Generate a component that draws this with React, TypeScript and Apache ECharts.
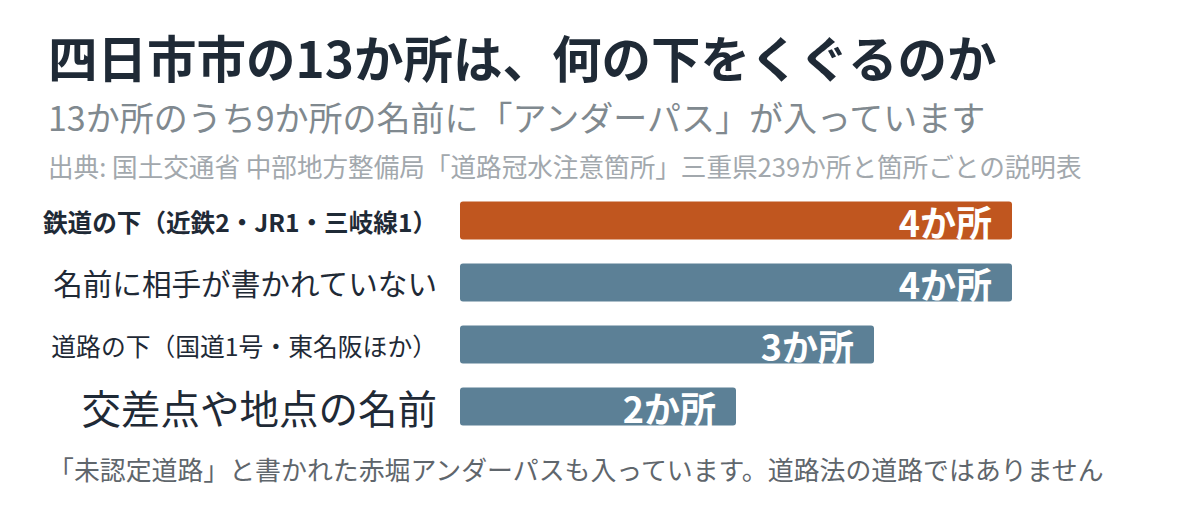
import React, { useEffect, useRef } from "react";
import * as echarts from "echarts";

const categories = [
  "鉄道の下（近鉄2・JR1・三岐線1）",
  "名前に相手が書かれていない",
  "道路の下（国道1号・東名阪ほか）",
  "交差点や地点の名前",
];
const values = [4, 4, 3, 2];
const valueLabels = ["4か所", "4か所", "3か所", "2か所"];
const labelStyles = ["a", "b", "c", "d"];
const barColors = ["#C0561F", "#5C8096", "#5C8096", "#5C8096"];

const titleText = "四日市市の13か所は、何の下をくぐるのか";
const subtitleText = "13か所のうち9か所の名前に「アンダーパス」が入っています";
const sourceText = "出典: 国土交通省 中部地方整備局「道路冠水注意箇所」三重県239か所と箇所ごとの説明表";
const noteText = "「未認定道路」と書かれた赤堀アンダーパスも入っています。道路法の道路ではありません";

const FONT = '"Noto Sans CJK JP", "Noto Sans", sans-serif';

export default function App() {
  const ref = useRef<HTMLDivElement>(null);
  useEffect(() => {
    document.body.style.margin = "0";
    const chart = echarts.init(ref.current!, null, { renderer: "svg" });
    chart.setOption({
      animation: false,
      backgroundColor: "#ffffff",
      textStyle: { fontFamily: FONT },
      grid: { left: 460, right: 188, top: 189.5, bottom: 514 - 437.5, containLabel: false },
      xAxis: {
        type: "value",
        min: 0,
        max: 4,
        show: false,
      },
      yAxis: {
        type: "category",
        inverse: true,
        data: categories,
        axisLine: { show: false },
        axisTick: { show: false },
        axisLabel: {
          margin: 23,
          formatter: (v: string) => {
            const i = categories.indexOf(v);
            return `{${labelStyles[i]}|${v}}`;
          },
          rich: {
            a: { fontSize: 24.6, fontWeight: "bold", color: "#1f2a36", fontFamily: FONT },
            b: { fontSize: 29.6, color: "#1f2a36", fontFamily: FONT },
            c: { fontSize: 24.8, color: "#1f2a36", fontFamily: FONT },
            d: { fontSize: 39.5, color: "#1f2a36", fontFamily: FONT },
          },
        },
      },
      series: [
        {
          type: "bar",
          data: values.map((v, i) => ({ value: v, itemStyle: { color: barColors[i] } })),
          barCategoryGap: "39%",
          itemStyle: { borderRadius: 3 },
          label: {
            show: true,
            position: "insideRight",
            distance: 20,
            formatter: (p: any) => valueLabels[p.dataIndex],
            color: "#ffffff",
            fontSize: 36,
            fontWeight: "bold",
            fontFamily: FONT,
          },
        },
      ],
      graphic: [
        {
          type: "text",
          left: 48,
          top: 32,
          style: { text: titleText, fontSize: 49.5, fontWeight: "bold", fill: "#1f2a36", fontFamily: FONT },
        },
        {
          type: "text",
          left: 48,
          top: 99,
          style: { text: subtitleText, fontSize: 34, fill: "#80898f", fontFamily: FONT },
        },
        {
          type: "text",
          left: 48,
          top: 153,
          style: { text: sourceText, fontSize: 25.6, fill: "#a2a8ad", fontFamily: FONT },
        },
        {
          type: "text",
          left: 48,
          top: 456,
          style: { text: noteText, fontSize: 25.9, fill: "#5f666c", fontFamily: FONT },
        },
      ],
    });
    return () => chart.dispose();
  }, []);
  return <div ref={ref} style={{ width: 1200, height: 514 }} />;
}
